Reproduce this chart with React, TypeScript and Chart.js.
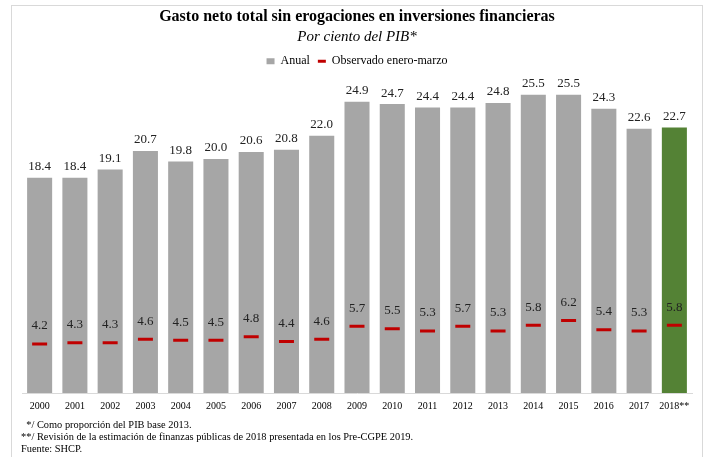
import React, { useEffect, useRef } from "react";
import { Chart, registerables } from "chart.js";

Chart.register(...registerables);

const years = ["2000","2001","2002","2003","2004","2005","2006","2007","2008","2009","2010","2011","2012","2013","2014","2015","2016","2017","2018**"];
const anual = [18.4,18.4,19.1,20.7,19.8,20.0,20.6,20.8,22.0,24.9,24.7,24.4,24.4,24.8,25.5,25.5,24.3,22.6,22.7];
const observado = [4.2,4.3,4.3,4.6,4.5,4.5,4.8,4.4,4.6,5.7,5.5,5.3,5.7,5.3,5.8,6.2,5.4,5.3,5.8];
const titleText = "Gasto neto total sin erogaciones en inversiones financieras";
const subtitleText = "Por ciento del PIB*";
const footnotes = [
  "*/ Como proporción del PIB base 2013.",
  "**/ Revisión de la estimación de finanzas públicas de 2018 presentada en los Pre-CGPE 2019.",
  "Fuente: SHCP.",
];

const SERIF = '"Liberation Serif", "Times New Roman", serif';
const GRAY = "#a6a6a6";
const GREEN = "#548235";
const RED = "#c00000";

const labelPlugin = {
  id: "valueLabels",
  afterDatasetsDraw(chart: any) {
    const ctx = chart.ctx;
    ctx.save();
    ctx.textAlign = "center";
    ctx.textBaseline = "middle";
    ctx.fillStyle = "#222";
    ctx.font = `13px ${SERIF}`;
    const m0 = chart.getDatasetMeta(0);
    m0.data.forEach((el: any, i: number) => {
      ctx.fillText(anual[i].toFixed(1), el.x, el.y - 11);
    });
    const m1 = chart.getDatasetMeta(1);
    m1.data.forEach((el: any, i: number) => {
      ctx.fillText(observado[i].toFixed(1), el.x, el.y - 18);
    });
    ctx.restore();
  },
};

export default function App() {
  const ref = useRef<HTMLCanvasElement | null>(null);
  useEffect(() => {
    if (!ref.current) return;
    const chart = new Chart(ref.current, {
      type: "bar",
      data: {
        labels: years,
        datasets: [
          {
            type: "bar",
            label: "Anual",
            data: anual,
            backgroundColor: anual.map((_, i) => (i === anual.length - 1 ? GREEN : GRAY)),
            barPercentage: 0.71,
            categoryPercentage: 1,
            order: 1,
            pointStyle: "rect",
          } as any,
          {
            type: "line",
            label: "Observado enero-marzo",
            data: observado,
            showLine: false,
            pointStyle: "line",
            pointRadius: 7.5,
            pointHoverRadius: 7.5,
            pointBorderWidth: 3,
            borderColor: RED,
            backgroundColor: RED,
            borderWidth: 3,
            order: 0,
          } as any,
        ],
      },
      options: {
        responsive: false,
        animation: false,
        layout: { padding: { left: 22, right: 15, top: 3, bottom: 38 } },
        plugins: {
          title: {
            display: true,
            text: titleText,
            color: "#000",
            font: { family: SERIF, size: 16, weight: "bold" },
            padding: { top: 4, bottom: 2 },
          },
          subtitle: {
            display: true,
            text: subtitleText,
            color: "#000",
            font: { family: SERIF, size: 15, style: "italic" },
            padding: { top: 0, bottom: 1 },
          },
          legend: {
            display: true,
            position: "top",
            labels: {
              usePointStyle: true,
              boxHeight: 6,
              boxWidth: 6,
              pointStyleWidth: 8,
              color: "#000",
              font: { family: SERIF, size: 12 },
              padding: 8,
              sort: (a: any, b: any) => a.datasetIndex - b.datasetIndex,
            },
          },
          tooltip: { enabled: false },
        },
        scales: {
          x: {
            grid: { display: false, drawTicks: false },
            border: { display: true, color: "#d9d9d9", width: 1 },
            ticks: { color: "#000", font: { family: SERIF, size: 10 }, padding: 7, maxRotation: 0, autoSkip: false },
          },
          y: {
            display: false,
            min: 0,
            max: 27.0,
          },
        },
      },
      plugins: [labelPlugin],
    });
    return () => chart.destroy();
  }, []);

  return (
    <div style={{ position: "absolute", left: 0, top: 0, width: 707, height: 457, overflow: "hidden", background: "#fff" }}>
      <div style={{ position: "absolute", left: 11, top: 5, width: 690, height: 470, border: "1px solid #d9d9d9" }} />
      <canvas ref={ref} width={707} height={457} style={{ position: "absolute", left: 0, top: 0 }} />
      <div style={{ position: "absolute", left: 21, top: 419, fontFamily: SERIF, fontSize: 10.4, lineHeight: "12px", color: "#000", whiteSpace: "pre" }}>
        <div>{"  " + footnotes[0]}</div>
        <div>{footnotes[1]}</div>
        <div>{footnotes[2]}</div>
      </div>
    </div>
  );
}
